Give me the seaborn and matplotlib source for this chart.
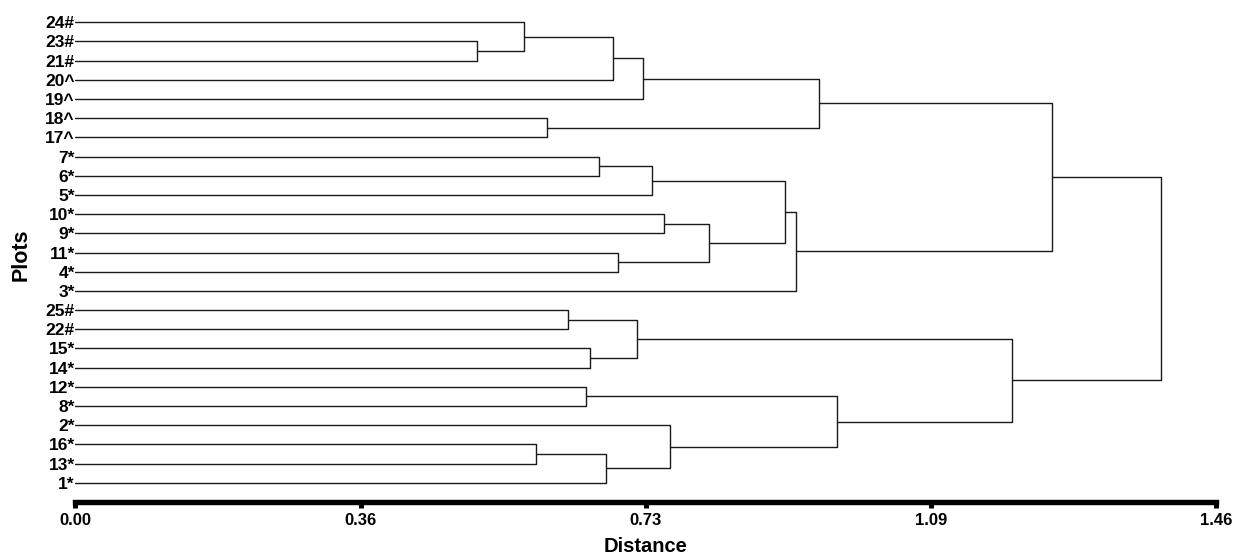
import pandas as pd
import seaborn as sns
import matplotlib
matplotlib.use('Agg')
import matplotlib.pyplot as plt


# leaves from top to bottom
leaf_order = ['24#', '23#', '21#', '20^', '19^', '18^', '17^', '7*', '6*', '5*',
              '10*', '9*', '11*', '4*', '3*', '25#', '22#', '15*', '14*', '12*',
              '8*', '2*', '16*', '13*', '1*']

# merges: a leaf label (str) or the index of an earlier merge (int)
merge_a = ['23#', '24#', 1, 2, '18^', 3, '7*', 6, '10*', '11*', 8, 7, 11, 5,
           '25#', '15*', 14, '12*', '16*', 18, '2*', 17, 16, 13]
merge_b = ['21#', 0, '20^', '19^', '17^', 4, '6*', '5*', '9*', '4*', 9, 10, '3*', 12,
           '22#', '14*', 15, '8*', '13*', '1*', 19, 20, 21, 22]
merge_dist = [0.514, 0.574, 0.688, 0.727, 0.604, 0.952, 0.670, 0.738, 0.753, 0.694,
              0.811, 0.908, 0.922, 1.250, 0.630, 0.659, 0.719, 0.653, 0.590, 0.679,
              0.761, 0.975, 1.199, 1.389]

tick_vals = [0.0, 0.365, 0.73, 1.095, 1.46]
tick_text = ['0.00', '0.36', '0.73', '1.09', '1.46']


def build_segments():
    node_y = {lab: float(i) for i, lab in enumerate(leaf_order)}
    node_x = {lab: 0.0 for lab in leaf_order}
    rows = []
    for k, (a, b, d) in enumerate(zip(merge_a, merge_b, merge_dist)):
        xa, ya = node_x[a], node_y[a]
        xb, yb = node_x[b], node_y[b]
        for x, y in [(xa, ya), (d, ya), (d, yb), (xb, yb)]:
            rows.append({'seg': k, 'x': x, 'y': y})
        node_x[k] = d
        node_y[k] = (ya + yb) / 2
    return pd.DataFrame(rows)


def main():
    sns.set_style('white')
    plt.rcParams['font.family'] = ['Liberation Sans', 'DejaVu Sans']
    plt.rcParams.update({'text.color': 'black', 'axes.labelcolor': 'black',
                         'xtick.color': 'black', 'ytick.color': 'black'})

    df = build_segments()

    fig = plt.figure(figsize=(12.35, 5.55), dpi=100)
    ax = fig.add_axes([0.0611, 0.0955, 0.9235, 0.899])

    sns.lineplot(data=df, x='x', y='y', units='seg', estimator=None, sort=False,
                 color='#1a1a1a', linewidth=1.0, ax=ax)

    ax.set_xlim(0, 1.46)
    ax.set_ylim(25.0, -1.0)

    ax.set_yticks(range(len(leaf_order)))
    ax.set_yticklabels(leaf_order, fontsize=12.5, fontweight='bold')
    ax.tick_params(axis='y', length=0, pad=0.5)

    ax.set_xticks(tick_vals)
    ax.set_xticklabels(tick_text, fontsize=12, fontweight='bold')
    ax.tick_params(axis='x', direction='out', length=4, width=3.6, pad=4,
                   color='black', bottom=True)

    for side in ['top', 'right', 'left']:
        ax.spines[side].set_visible(False)
    ax.spines['bottom'].set_linewidth(3.9)
    ax.spines['bottom'].set_color('black')

    ax.set_xlabel('Distance', fontsize=14.5, fontweight='bold')
    ax.set_ylabel('Plots', fontsize=15.5, fontweight='bold')
    ax.xaxis.set_label_coords(0.5, -0.07)
    ax.yaxis.set_label_coords(-0.038, 0.495)

    fig.savefig('out.png', dpi=100)


if __name__ == '__main__':
    main()
